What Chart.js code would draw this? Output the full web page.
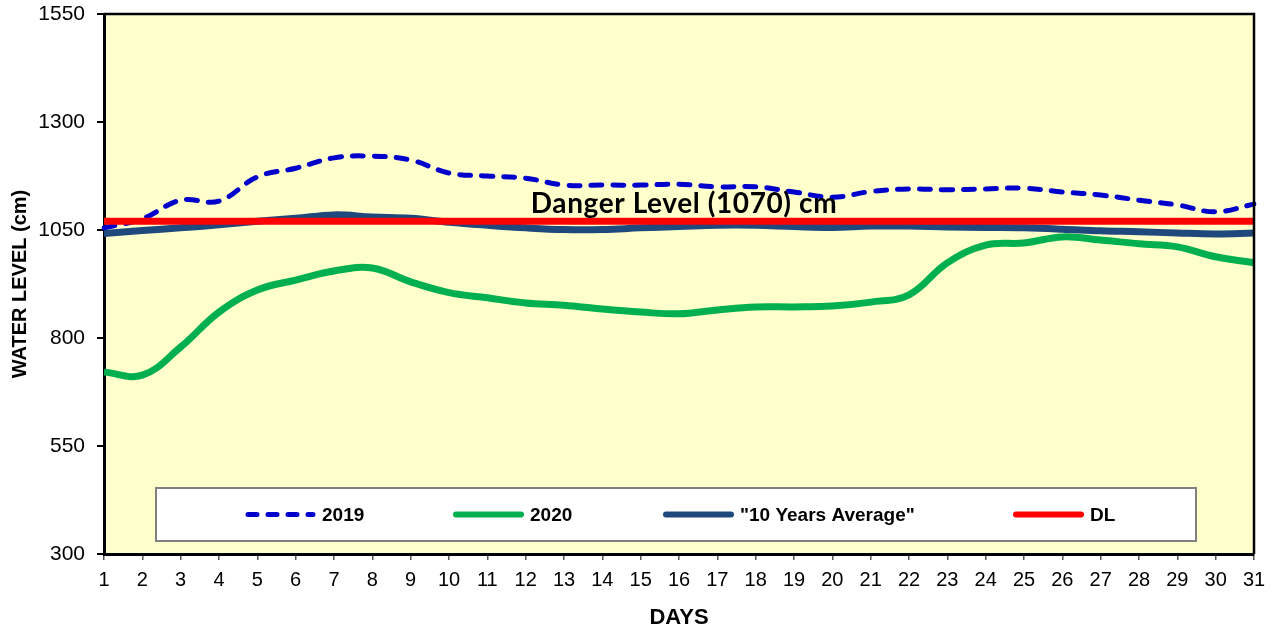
<!DOCTYPE html>
<html>
<head>
<meta charset="utf-8">
<script src="https://cdn.jsdelivr.net/npm/chart.js"></script>
<style>
  body { margin: 0; background: #fff; }
  #wrap { width: 1278px; height: 633px; }
</style>
</head>
<body>
<div id="wrap"><canvas id="chart" width="1278" height="633"></canvas></div>
<script>
// Data
const days = ['1', '2', '3', '4', '5', '6', '7', '8', '9', '10', '11', '12', '13', '14', '15', '16',
    '17', '18', '19', '20', '21', '22', '23', '24', '25', '26', '27', '28', '29', '30', '31'];

const level2019 = [1055, 1076, 1119, 1117, 1173, 1193, 1217, 1221, 1212, 1182, 1175, 1170, 1154, 1154, 1154, 1156,
    1150, 1150, 1138, 1126, 1139, 1145, 1143, 1145, 1147, 1138, 1131, 1119, 1108, 1092, 1110];

const level2020 = [721, 714, 779, 860, 911, 934, 955, 962, 930, 905, 893, 881, 876, 867, 860, 856,
    865, 872, 872, 874, 883, 900, 974, 1015, 1020, 1034, 1027, 1018, 1011, 988, 974];

const tenYearAvg = [1042, 1049, 1055, 1062, 1070, 1077, 1085, 1080, 1077, 1068, 1061, 1055, 1051, 1051, 1055, 1058,
    1061, 1061, 1058, 1056, 1059, 1059, 1057, 1056, 1055, 1052, 1048, 1046, 1043, 1041, 1043];

const dangerLevel = 1070;
const dangerLine = days.map(() => dangerLevel);

const yTicks = [300, 550, 800, 1050, 1300, 1550];

// where each legend entry starts, measured from the legend box left edge
const legendSlots = [89, 297, 507, 857];

Chart.defaults.font.family = "'Liberation Sans', Arial, sans-serif";
Chart.defaults.color = '#000';

// yellow plot background + top/right frame
const plotFrame = {
    id: 'plotFrame',
    beforeDraw(chart) {
        const { ctx, chartArea: a } = chart;
        ctx.save();
        ctx.fillStyle = '#FFFFCC';
        ctx.fillRect(a.left, a.top, a.right - a.left, a.bottom - a.top);
        ctx.restore();
    },
    afterDraw(chart) {
        const { ctx, chartArea: a } = chart;
        ctx.save();
        ctx.strokeStyle = '#000';
        ctx.lineWidth = 2.5;
        ctx.beginPath();
        ctx.moveTo(a.left, a.top);
        ctx.lineTo(a.right, a.top);
        ctx.lineTo(a.right, a.bottom);
        ctx.stroke();
        ctx.restore();
    }
};

// "Danger Level" caption above the red line
const dangerLabel = {
    id: 'dangerLabel',
    afterDatasetsDraw(chart) {
        const { ctx, chartArea: a, scales } = chart;
        const y = scales.y.getPixelForValue(dangerLevel);
        ctx.save();
        ctx.font = "bold 28px Lato, 'Open Sans', sans-serif";
        ctx.letterSpacing = '0.6px';
        ctx.fillStyle = '#000';
        ctx.textAlign = 'center';
        ctx.textBaseline = 'alphabetic';
        ctx.fillText('Danger Level (' + dangerLevel + ') cm', (a.left + a.right) / 2 + 5, y - 8.5);
        ctx.restore();
    }
};

// boxed legend inside the plot area, near the bottom
const legendBox = {
    id: 'legendBox',
    afterDatasetsDraw(chart) {
        const { ctx, chartArea: a } = chart;
        const left = a.left + 52, top = a.bottom - 66, w = 1040, h = 53;
        ctx.save();
        ctx.fillStyle = '#fff';
        ctx.fillRect(left, top, w, h);
        ctx.strokeStyle = '#808080';
        ctx.lineWidth = 2;
        ctx.strokeRect(left, top, w, h);
        const midY = top + h / 2;
        chart.data.datasets.forEach((ds, i) => {
            const x = left + legendSlots[i];
            ctx.beginPath();
            ctx.strokeStyle = ds.borderColor;
            ctx.lineCap = 'round';
            if (ds.borderDash) {
                ctx.lineWidth = 5;
                ctx.setLineDash([9, 11]);
            } else {
                ctx.lineWidth = 6;
                ctx.setLineDash([]);
            }
            ctx.moveTo(x + 3, midY);
            ctx.lineTo(x + 68, midY);
            ctx.stroke();
            ctx.setLineDash([]);
            ctx.fillStyle = '#000';
            ctx.font = "bold 19px 'Liberation Sans', Arial, sans-serif";
            ctx.textAlign = 'left';
            ctx.textBaseline = 'middle';
            ctx.fillText(ds.label, x + 77, midY + 1);
        });
        ctx.restore();
    }
};

new Chart(document.getElementById('chart'), {
    type: 'line',
    data: {
        labels: days,
        datasets: [
            {
                label: '2019',
                data: level2019,
                borderColor: '#0000CC',
                borderWidth: 5,
                borderDash: [11, 11],
                borderCapStyle: 'round',
                order: 1
            },
            {
                label: '2020',
                data: level2020,
                borderColor: '#00B050',
                borderWidth: 7,
                order: 3
            },
            {
                label: '"10 Years Average"',
                data: tenYearAvg,
                borderColor: '#1F497D',
                borderWidth: 7,
                order: 2
            },
            {
                label: 'DL',
                data: dangerLine,
                borderColor: '#FF0000',
                borderWidth: 7,
                tension: 0,
                order: 0
            }
        ]
    },
    options: {
        responsive: false,
        animation: false,
        layout: { padding: { top: 14, right: 24, left: 0, bottom: 0 } },
        elements: {
            point: { radius: 0 },
            line: { tension: 0.4, fill: false }
        },
        plugins: {
            legend: { display: false },
            tooltip: { enabled: false }
        },
        scales: {
            x: {
                offset: false,
                grid: { drawOnChartArea: false, drawTicks: true, tickLength: 6, color: '#555', lineWidth: 1.5 },
                border: { display: true, color: '#000', width: 3 },
                ticks: { font: { size: 20 }, padding: 8, maxRotation: 0, autoSkip: false },
                title: { display: true, text: 'DAYS', font: { size: 22, weight: 'bold' }, padding: { top: 0, bottom: 2 } },
                afterFit(scale) { scale.height = 79; }
            },
            y: {
                min: yTicks[0],
                max: yTicks[yTicks.length - 1],
                afterBuildTicks(scale) { scale.ticks = yTicks.map(v => ({ value: v })); },
                grid: { drawOnChartArea: false, drawTicks: true, tickLength: 7, color: '#000', lineWidth: 2 },
                border: { display: true, color: '#000', width: 3 },
                ticks: { font: { size: 21 }, padding: 12, callback: v => String(v) },
                title: { display: true, text: 'WATER LEVEL (cm)', font: { size: 20, weight: 'bold' }, padding: { top: 8, bottom: 0 } },
                afterFit(scale) {
                    scale.width = 104;
                    scale.paddingTop = 0;
                    scale.paddingBottom = 0;
                }
            }
        }
    },
    plugins: [plotFrame, legendBox, dangerLabel]
});
</script>
</body>
</html>
